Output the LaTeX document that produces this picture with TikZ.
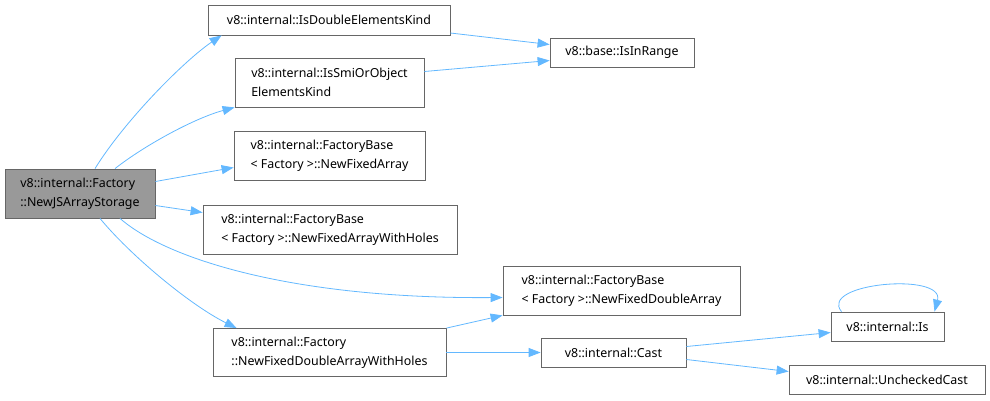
\documentclass[tikz,border=0pt]{standalone}
\usepackage{fontspec}
\setmainfont{Noto Sans}
\usetikzlibrary{arrows.meta, positioning}

\definecolor{edgeblue}{HTML}{63B8FF}
\definecolor{boxline}{HTML}{666666}
\definecolor{mainfill}{HTML}{999999}

\begin{document}
\begin{tikzpicture}[x=1pt,y=-1pt,
  every node/.style={font=\fontsize{12.4}{19}\selectfont},
  fn/.style={draw=boxline,line width=0.8pt,fill=white,align=left,inner xsep=6pt,inner ysep=2pt},
  root/.style={fn,fill=mainfill},
  call/.style={color=edgeblue,line width=0.8pt,-{Triangle[length=12pt,width=9pt]}}]
  \useasboundingbox (0,0) rectangle (990,400);

  \node[root] (main)  at (80,193.5)  [minimum width=150pt,minimum height=49pt] {v8::internal::Factory\\::NewJSArrayStorage};
  \node[fn]   (dek)   at (329,20)    [minimum width=242pt,minimum height=30pt] {v8::internal::IsDoubleElementsKind};
  \node[fn]   (ir)    at (622,52.5)  [minimum width=144pt,minimum height=29pt] {v8::base::IsInRange};
  \node[fn]   (smi)   at (329.5,82.5)  [minimum width=189pt,minimum height=49pt] {v8::internal::IsSmiOrObject\\ElementsKind};
  \node[fn]   (nfa)   at (329.5,155.5) [minimum width=191pt,minimum height=49pt] {v8::internal::FactoryBase\\< Factory >::NewFixedArray};
  \node[fn]   (nfah)  at (330,229.5) [minimum width=254pt,minimum height=49pt] {v8::internal::FactoryBase\\< Factory >::NewFixedArrayWithHoles};
  \node[fn]   (nfda)  at (621.5,290.5) [minimum width=237pt,minimum height=49pt] {v8::internal::FactoryBase\\< Factory >::NewFixedDoubleArray};
  \node[fn]   (nfdah) at (329.5,352.5) [minimum width=233pt,minimum height=48pt] {v8::internal::Factory\\::NewFixedDoubleArrayWithHoles};
  \node[fn]   (cast)  at (613.5,352.5) [minimum width=145pt,minimum height=29pt] {v8::internal::Cast};
  \node[fn]   (is)    at (887.5,326.5) [minimum width=113pt,minimum height=29pt] {v8::internal::Is};
  \node[fn]   (uc)    at (887,379.5) [minimum width=196pt,minimum height=29pt] {v8::internal::UncheckedCast};

  % curved calls out of the root
  \draw[call] ([xshift=15pt]main.north) .. controls (125,120) and (185,60) .. ([xshift=14pt]dek.south west);
  \draw[call] ([xshift=35pt]main.north) .. controls (145,145) and (195,118) .. (smi.south west);
  \draw[call] ([xshift=40pt]main.south) .. controls (165,258) and (290,299) .. ([yshift=-7pt]nfda.west);
  \draw[call] ([xshift=20pt]main.south) .. controls (130,255) and (190,305) .. ([xshift=24pt]nfdah.north west);
  \draw[call] ([xshift=-46pt]is.north) .. controls (818,283) and (945,272) .. ([xshift=47pt]is.north);

  \path[call] ([yshift=12pt]main.east)  edge ([yshift=-12pt]nfa.west)
              ([yshift=-12pt]main.east) edge ([yshift=17pt]nfah.west)
              ([yshift=-13pt]dek.east)  edge ([yshift=8pt]ir.west)
              ([yshift=11pt]smi.east)   edge ([yshift=-8pt]ir.west)
              (nfdah.north east)        edge (nfda.south west)
              (nfdah)                   edge (cast)
              ([yshift=6pt]cast.east)   edge ([yshift=-6pt]is.west)
              ([yshift=-7pt]cast.east)  edge ([yshift=8pt]uc.west);
\end{tikzpicture}
\end{document}
